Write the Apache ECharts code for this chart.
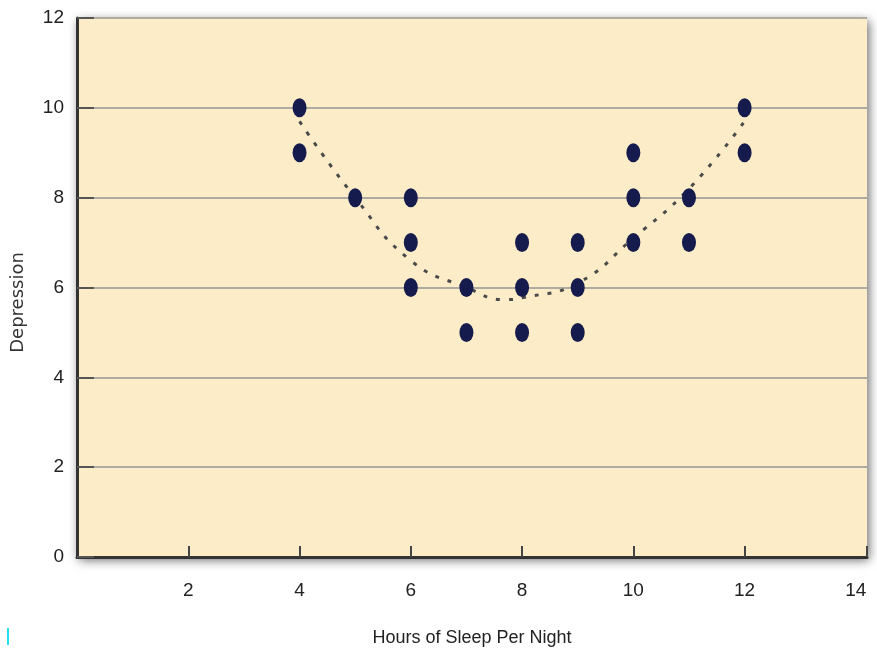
<!DOCTYPE html>
<html>
<head>
<meta charset="utf-8">
<script src="https://cdn.jsdelivr.net/npm/echarts@6/dist/echarts.min.js"></script>
<style>html,body{margin:0;padding:0;background:#fff}#c{width:877px;height:655px}</style>
</head>
<body>
<div id="c"></div>
<script>
// Observed data points (hours of sleep, depression)
const sleepHours = [4, 4, 5, 6, 6, 6, 7, 7, 8, 8, 8, 9, 9, 9, 10, 10, 10, 11, 11, 12, 12];
const depression = [10, 9, 8, 8, 7, 6, 6, 5, 7, 6, 5, 7, 6, 5, 9, 8, 7, 8, 7, 10, 9];
// Dashed trend curve
const trendX = [4, 5, 6, 7, 7.7, 8, 9, 10, 11, 12];
const trendY = [9.7, 8.0, 6.6, 6.0, 5.73, 5.77, 6.1, 7.1, 8.2, 9.7];
const xTicks = [2, 4, 6, 8, 10, 12, 14];
const yTicks = [0, 2, 4, 6, 8, 10, 12];

const chart = echarts.init(document.getElementById('c'));
const labelFont = "'Liberation Sans',sans-serif";
chart.setOption({
  animation: false,
  backgroundColor: '#ffffff',
  grid: {
    left: 77, right: 10, top: 18, bottom: 98,
    outerBoundsMode: 'none', containLabel: false,
    show: true, backgroundColor: '#fcedc8', borderWidth: 0,
    shadowBlur: 10, shadowColor: 'rgba(0,0,0,0.6)', shadowOffsetX: 2, shadowOffsetY: 3
  },
  xAxis: {
    type: 'value', min: 0, max: 14.2, interval: 2,
    name: 'Hours of Sleep Per Night', nameLocation: 'middle', nameGap: 81,
    nameTextStyle: { fontFamily: labelFont, fontSize: 18, color: '#222', verticalAlign: 'middle' },
    axisLine: { show: true, lineStyle: { color: '#333', width: 3 } },
    axisTick: { show: true, inside: true, length: 11, customValues: [2, 4, 6, 8, 10, 12, 14.2], lineStyle: { color: '#444', width: 2 } },
    axisLabel: {
      margin: 24, fontFamily: labelFont, fontSize: 19, color: '#222',
      customValues: xTicks
    },
    splitLine: { show: false }
  },
  yAxis: {
    type: 'value', min: 0, max: 12, interval: 2,
    name: 'Depression', nameLocation: 'middle', nameGap: 50, nameRotate: 90,
    nameTextStyle: { fontFamily: "'DejaVu Sans',sans-serif", fontSize: 18, color: '#333', padding: [0, 30, 0, 0] },
    axisLine: { show: true, lineStyle: { color: '#333', width: 3 } },
    axisTick: { show: true, inside: true, length: 17, lineStyle: { color: '#555', width: 2 } },
    axisLabel: {
      margin: 13, fontFamily: labelFont, fontSize: 19, color: '#222',
      customValues: yTicks
    },
    splitLine: { show: true, lineStyle: { color: '#aeaba1', width: 2 } }
  },
  series: [
    {
      type: 'line', data: trendX.map((x, i) => [x, trendY[i]]),
      smooth: 0.5, symbol: 'none', z: 2,
      lineStyle: { color: '#4a4a4a', width: 3, type: [4, 9] }
    },
    {
      type: 'scatter', data: sleepHours.map((x, i) => [x, depression[i]]),
      symbol: 'circle', symbolSize: [14, 19], z: 3,
      itemStyle: { color: '#161b4d', opacity: 1 }
    }
  ],
  graphic: [
    { type: 'rect', shape: { x: 7, y: 628, width: 2, height: 17 }, style: { fill: '#22e0f0' } }
  ]
});
</script>
</body>
</html>
